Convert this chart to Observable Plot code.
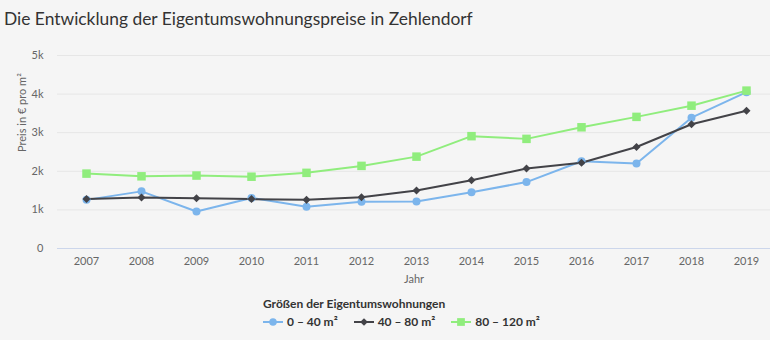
<!DOCTYPE html>
<html>
<head>
<meta charset="utf-8">
<script src="https://cdn.jsdelivr.net/npm/d3@7"></script>
<script src="https://cdn.jsdelivr.net/npm/@observablehq/plot@0.6"></script>
<style>
  body { margin:0; background:#f5f5f5; width:770px; height:340px; overflow:hidden; position:relative; font-family: Lato, "Open Sans", sans-serif; }
  #title { position:absolute; left:4px; top:8px; font-size:17.4px; color:#333; white-space:nowrap; }
  #chart { position:absolute; left:0; top:40px; }
  #legend { position:absolute; left:263px; top:296px; color:#333; font-size:12px; font-weight:bold; }
  #legend .lt { margin-bottom:3px; }
  #legend .items { display:flex; align-items:center; }
  #legend .item { display:flex; align-items:center; margin-right:16px; }
  #legend svg { margin-right:4px; }
</style>
</head>
<body>
<div id="title">Die Entwicklung der Eigentumswohnungspreise in Zehlendorf</div>
<div id="chart"></div>
<div id="legend"></div>
<script>
const years = [2007, 2008, 2009, 2010, 2011, 2012, 2013, 2014, 2015, 2016, 2017, 2018, 2019];
const small  = [1260, 1480, 960, 1310, 1080, 1210, 1220, 1460, 1720, 2260, 2200, 3390, 4050];
const medium = [1280, 1320, 1300, 1280, 1260, 1330, 1500, 1770, 2070, 2220, 2630, 3220, 3570];
const large  = [1940, 1870, 1890, 1860, 1960, 2140, 2380, 2910, 2840, 3140, 3410, 3700, 4090];
const seriesNames = ["0 – 40 m²", "40 – 80 m²", "80 – 120 m²"];
const colors = ["#7cb5ec", "#434348", "#90ed7d"];
const yTicks = [0, 1000, 2000, 3000, 4000, 5000];
const yLabel = "Preis in € pro m²";
const xLabel = "Jahr";
const legendTitle = "Größen der Eigentumswohnungen";

const mk = (vals) => years.map((y, i) => ({year: y, value: vals[i]}));
const dS = mk(small), dM = mk(medium), dL = mk(large);

// rotated-square diamond (Highcharts style)
const diamondSym = {
  draw(context, size) {
    const h = Math.sqrt(size / 2);
    context.moveTo(0, -h);
    context.lineTo(h, 0);
    context.lineTo(0, h);
    context.lineTo(-h, 0);
    context.closePath();
  }
};

const chart = Plot.plot({
  width: 770,
  height: 245,
  marginTop: 15,
  marginBottom: 37,
  marginLeft: 57,
  marginRight: 0,
  style: { background: "transparent", fontFamily: "Lato, 'Open Sans', sans-serif", fontSize: "11px", color: "#666" },
  x: { type: "point", domain: years, range: [84, 748], padding: 0, label: null },
  y: { domain: [0, 5000], label: null },
  marks: [
    Plot.gridY(yTicks.slice(1), { stroke: "#e6e6e6", strokeOpacity: 1 }),
    Plot.ruleY([0], { stroke: "#ccd6eb" }),
    Plot.axisY({ ticks: yTicks, tickSize: 0, tickPadding: 14, label: null,
      tickFormat: d => d === 0 ? "0" : (d / 1000) + "k" }),
    Plot.axisX({ tickSize: 0, tickPadding: 9, label: null, tickFormat: d => String(d) }),
    Plot.text([yLabel], { frameAnchor: "left", dx: -35, rotate: -90, fill: "#666", fontSize: 11 }),
    Plot.text([xLabel], { frameAnchor: "bottom", dy: 34, fill: "#666", fontSize: 11 }),
    Plot.line(dS, { x: "year", y: "value", stroke: colors[0], strokeWidth: 2 }),
    Plot.line(dM, { x: "year", y: "value", stroke: colors[1], strokeWidth: 2 }),
    Plot.line(dL, { x: "year", y: "value", stroke: colors[2], strokeWidth: 2 }),
    Plot.dot(dS, { x: "year", y: "value", fill: colors[0], r: 4, symbol: "circle" }),
    Plot.dot(dM, { x: "year", y: "value", fill: colors[1], r: 3.2, symbol: diamondSym }),
    Plot.dot(dL, { x: "year", y: "value", fill: colors[2], r: 4.8, symbol: "square" })
  ]
});
document.getElementById("chart").appendChild(chart);

// Legend
const legend = document.getElementById("legend");
const lt = document.createElement("div");
lt.className = "lt";
lt.textContent = legendTitle;
legend.appendChild(lt);
const items = document.createElement("div");
items.className = "items";
seriesNames.forEach((name, i) => {
  const it = document.createElement("div");
  it.className = "item";
  const svg = d3.create("svg").attr("width", 20).attr("height", 12);
  svg.append("line").attr("x1", 0).attr("x2", 20).attr("y1", 6).attr("y2", 6)
    .attr("stroke", colors[i]).attr("stroke-width", 2);
  const sym = i === 0 ? d3.symbolCircle : i === 1 ? diamondSym : d3.symbolSquare;
  const size = i === 0 ? 45 : i === 1 ? 30 : 60;
  svg.append("path").attr("d", d3.symbol(sym, size)()).attr("transform", "translate(10,6)")
    .attr("fill", colors[i]);
  it.appendChild(svg.node());
  const t = document.createElement("span");
  t.textContent = name;
  it.appendChild(t);
  items.appendChild(it);
});
legend.appendChild(items);
</script>
</body>
</html>
